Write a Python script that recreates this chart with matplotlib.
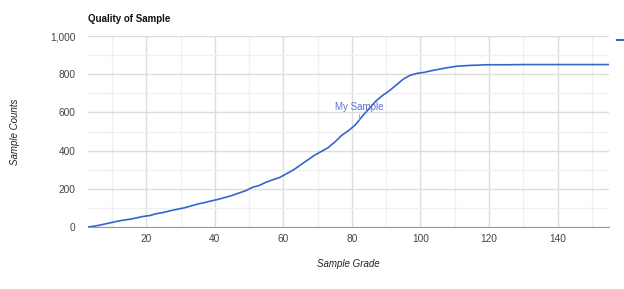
import numpy as np
import matplotlib.pyplot as plt
from matplotlib.lines import Line2D
from matplotlib.ticker import MultipleLocator, FuncFormatter

plt.rcParams['font.family'] = ['Liberation Sans', 'DejaVu Sans']

# sample grade vs cumulative count
grade = [3, 5, 7, 9, 11, 13, 15, 17, 19, 21, 23, 25, 27, 29, 31, 33, 35, 37, 39,
         41, 43, 45, 47, 49, 51, 53, 55, 57, 59, 61, 63, 65, 67, 69, 71, 73, 75,
         77, 79, 81, 83, 85, 87, 89, 91, 93, 95, 97, 99, 101, 103, 105, 107, 109,
         111, 113, 115, 117, 119, 121, 125, 130, 135, 140, 145, 150, 155]
counts = [0, 5, 12, 20, 28, 35, 40, 47, 55, 60, 70, 76, 85, 93, 100, 110, 120,
          128, 137, 145, 155, 165, 178, 190, 208, 218, 235, 248, 260, 280, 300,
          325, 350, 375, 395, 415, 445, 480, 505, 535, 580, 620, 660, 690, 715,
          745, 775, 795, 805, 810, 818, 825, 832, 838, 843, 845, 847, 848, 850,
          850, 850, 851, 851, 851, 851, 851, 851]
note_x, note_y = 82, 565
note_text = 'My Sample'

blue = '#3366cc'

fig = plt.figure(figsize=(6.24, 2.89), dpi=100)
ax = fig.add_axes([0.141, 0.2145, 0.835, 0.6605])

ax.plot(grade, counts, color=blue, lw=1.2)

ax.set_xlim(3, 155)
ax.set_ylim(0, 1000)
ax.xaxis.set_major_locator(MultipleLocator(20))
ax.xaxis.set_minor_locator(MultipleLocator(10))
ax.yaxis.set_major_locator(MultipleLocator(200))
ax.yaxis.set_minor_locator(MultipleLocator(100))
ax.yaxis.set_major_formatter(FuncFormatter(lambda v, p: f'{int(v):,}'))

ax.grid(which='major', color='#dddddd', lw=1.0)
ax.grid(which='minor', color='#f0f0f0', lw=1.0)
ax.set_axisbelow(True)
for s in ['top', 'right', 'left']:
    ax.spines[s].set_visible(False)
ax.spines['bottom'].set_color('#999999')
ax.tick_params(which='both', length=0, labelsize=7.3, colors='#444444')
ax.tick_params(axis='y', pad=9)
ax.tick_params(axis='x', pad=5)

ax.set_title('Quality of Sample', loc='left', fontsize=7, fontweight='bold',
             color='#111111', pad=10)
ax.set_xlabel('Sample Grade', fontsize=7, style='italic', color='#222222', labelpad=11)
ax.set_ylabel('Sample Counts', fontsize=7, style='italic', color='#222222', labelpad=22)

# annotation with short stem
ax.plot([note_x, note_x], [note_y, note_y + 28], color='#999999', lw=0.6)
ax.text(note_x, note_y + 37, note_text, ha='center', va='bottom', fontsize=7,
        color='#5a6fd6')

# legend swatch, mostly off the right edge as in the original
fig.add_artist(Line2D([617 / 624, 1.0], [1 - 40 / 289, 1 - 40 / 289],
                      color=blue, lw=1.5, transform=fig.transFigure))

fig.savefig('out.png', dpi=100)
